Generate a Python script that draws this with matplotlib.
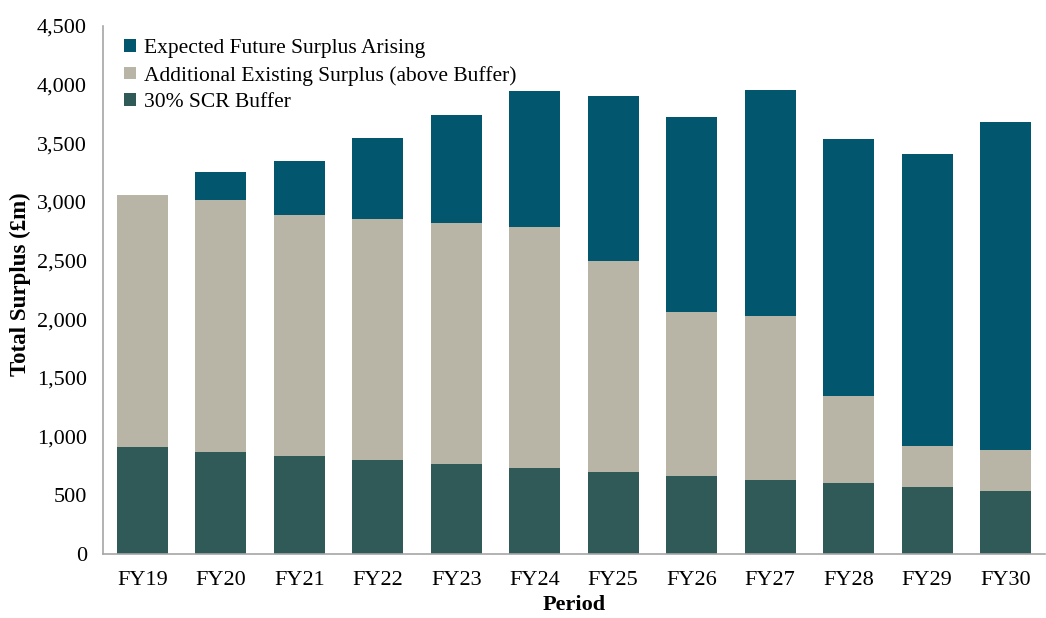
import matplotlib
matplotlib.use("Agg")
import matplotlib.pyplot as plt
import numpy as np
from matplotlib.ticker import FuncFormatter, MultipleLocator

periods = ["FY19", "FY20", "FY21", "FY22", "FY23", "FY24", "FY25", "FY26", "FY27", "FY28", "FY29", "FY30"]
buffer_30 = [912, 869, 838, 804, 770, 736, 701, 667, 633, 603, 568, 539]
total_existing = [3060, 3020, 2886, 2852, 2818, 2784, 2497, 2062, 2028, 1347, 922, 886]
total_surplus = [3060, 3256, 3349, 3545, 3741, 3946, 3901, 3724, 3952, 3540, 3406, 3679]

additional = [t - b for t, b in zip(total_existing, buffer_30)]
expected = [s - t for s, t in zip(total_surplus, total_existing)]

c_exp = "#02576E"
c_add = "#B8B5A7"
c_buf = "#2F5A57"

plt.rcParams['font.family'] = ['Liberation Serif', 'DejaVu Serif']

fig = plt.figure(figsize=(10.46, 6.18), dpi=100)
ax = fig.add_axes([0.0985, 0.1036, 0.9005, 0.8544])

x = np.arange(len(periods))
w = 0.65
ax.bar(x, buffer_30, w, color=c_buf, label="30% SCR Buffer", zorder=2)
ax.bar(x, additional, w, bottom=buffer_30, color=c_add, label="Additional Existing Surplus (above Buffer)", zorder=2)
ax.bar(x, expected, w, bottom=total_existing, color=c_exp, label="Expected Future Surplus Arising", zorder=2)

ax.set_xlim(-0.5, len(periods) - 0.5)
ax.set_ylim(0, 4500)
ax.yaxis.set_major_locator(MultipleLocator(500))
ax.yaxis.set_major_formatter(FuncFormatter(lambda v, p: f"{int(v):,}"))
ax.set_xticks(x)
ax.set_xticklabels(periods)

for s in ["top", "right"]:
    ax.spines[s].set_visible(False)
for s in ["left", "bottom"]:
    ax.spines[s].set_color("#A6A6A6")
    ax.spines[s].set_linewidth(1.2)

ax.tick_params(axis="both", length=0, labelsize=16, colors="black")
ax.tick_params(axis="y", pad=11.5)
ax.tick_params(axis="x", pad=12)

ax.set_ylabel("Total Surplus (£m)", fontsize=16.5, fontweight="bold")
ax.yaxis.set_label_coords(-0.077, 0.51)
ax.set_xlabel("Period", fontsize=16, fontweight="bold", labelpad=4)

handles, labels = ax.get_legend_handles_labels()
leg = ax.legend(handles[::-1], labels[::-1], loc="upper left", bbox_to_anchor=(0.009, 1.0),
                frameon=False, fontsize=15.5, handlelength=0.55, handleheight=0.55,
                handletextpad=0.35, labelspacing=0.36, borderaxespad=0.2)

fig.savefig("out.png", dpi=100)
